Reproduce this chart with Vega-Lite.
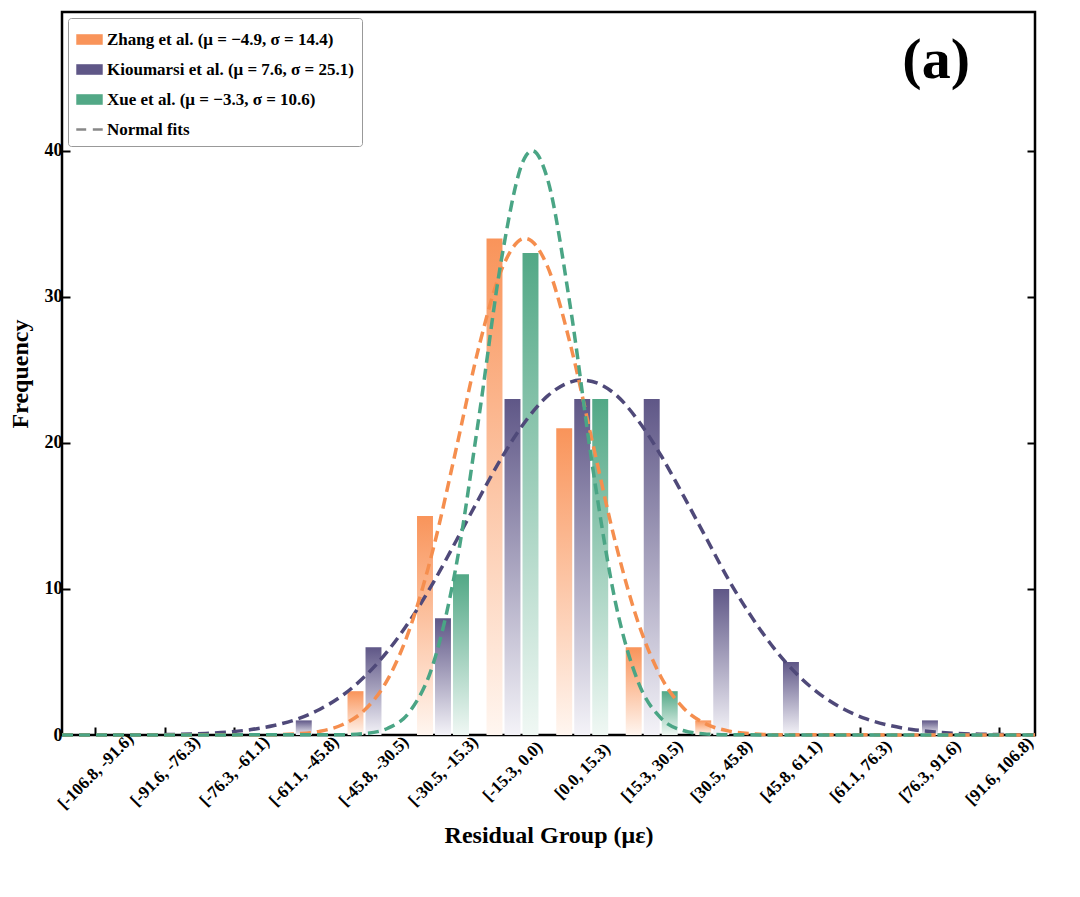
{
  "$schema": "https://vega.github.io/schema/vega-lite/v6.json",
  "width": 973,
  "height": 723,
  "padding": {"left": 8, "top": 12, "right": 25, "bottom": 5},
  "config": {
    "font": "Liberation Serif",
    "view": {"stroke": "black", "strokeWidth": 2.5},
    "axis": {"labelFont": "Liberation Serif", "titleFont": "Liberation Serif", "labelFontWeight": "bold", "titleFontWeight": "bold", "labelColor": "black", "titleColor": "black", "grid": false, "domain": false, "tickColor": "black", "tickWidth": 2, "tickSize": -8}
  },
  "title": {"text": "(a)", "font": "Liberation Serif", "fontSize": 58, "fontWeight": "bold", "anchor": "end", "orient": "top", "offset": -78, "dx": -72, "color": "black"},
  "datasets": {
    "bars": [
      {"bin": "[-45.8, -30.5)", "center": -38.15, "series": "Zhang", "count": 3},
      {"bin": "[-30.5, -15.3)", "center": -22.9, "series": "Zhang", "count": 15},
      {"bin": "[-15.3, 0.0)", "center": -7.65, "series": "Zhang", "count": 34},
      {"bin": "[0.0, 15.3)", "center": 7.65, "series": "Zhang", "count": 21},
      {"bin": "[15.3, 30.5)", "center": 22.9, "series": "Zhang", "count": 6},
      {"bin": "[30.5, 45.8)", "center": 38.15, "series": "Zhang", "count": 1},
      {"bin": "[-61.1, -45.8)", "center": -53.45, "series": "Kioumarsi", "count": 1},
      {"bin": "[-45.8, -30.5)", "center": -38.15, "series": "Kioumarsi", "count": 6},
      {"bin": "[-30.5, -15.3)", "center": -22.9, "series": "Kioumarsi", "count": 8},
      {"bin": "[-15.3, 0.0)", "center": -7.65, "series": "Kioumarsi", "count": 23},
      {"bin": "[0.0, 15.3)", "center": 7.65, "series": "Kioumarsi", "count": 23},
      {"bin": "[15.3, 30.5)", "center": 22.9, "series": "Kioumarsi", "count": 23},
      {"bin": "[30.5, 45.8)", "center": 38.15, "series": "Kioumarsi", "count": 10},
      {"bin": "[45.8, 61.1)", "center": 53.45, "series": "Kioumarsi", "count": 5},
      {"bin": "[76.3, 91.6)", "center": 83.95, "series": "Kioumarsi", "count": 1},
      {"bin": "[-30.5, -15.3)", "center": -22.9, "series": "Xue", "count": 11},
      {"bin": "[-15.3, 0.0)", "center": -7.65, "series": "Xue", "count": 33},
      {"bin": "[0.0, 15.3)", "center": 7.65, "series": "Xue", "count": 23},
      {"bin": "[15.3, 30.5)", "center": 22.9, "series": "Xue", "count": 3}
    ],
    "ticks": [
      {"center": -99.15, "label": "[-106.8, -91.6)"},
      {"center": -83.9, "label": "[-91.6, -76.3)"},
      {"center": -68.7, "label": "[-76.3, -61.1)"},
      {"center": -53.45, "label": "[-61.1, -45.8)"},
      {"center": -38.15, "label": "[-45.8, -30.5)"},
      {"center": -22.9, "label": "[-30.5, -15.3)"},
      {"center": -7.65, "label": "[-15.3, 0.0)"},
      {"center": 7.65, "label": "[0.0, 15.3)"},
      {"center": 22.9, "label": "[15.3, 30.5)"},
      {"center": 38.15, "label": "[30.5, 45.8)"},
      {"center": 53.45, "label": "[45.8, 61.1)"},
      {"center": 68.7, "label": "[61.1, 76.3)"},
      {"center": 83.9, "label": "[76.3, 91.6)"},
      {"center": 99.15, "label": "[91.6, 106.8)"}
    ],
    "curves": [
      {"series": "Zhang", "x": -106.5, "y": 0},
      {"series": "Zhang", "x": -60, "y": 0.02},
      {"series": "Zhang", "x": -55, "y": 0.08},
      {"series": "Zhang", "x": -50, "y": 0.25},
      {"series": "Zhang", "x": -45, "y": 0.7},
      {"series": "Zhang", "x": -40, "y": 1.74},
      {"series": "Zhang", "x": -35, "y": 3.82},
      {"series": "Zhang", "x": -30, "y": 7.45},
      {"series": "Zhang", "x": -25, "y": 12.8},
      {"series": "Zhang", "x": -20, "y": 19.6},
      {"series": "Zhang", "x": -15, "y": 26.6},
      {"series": "Zhang", "x": -10, "y": 31.9},
      {"series": "Zhang", "x": -4.9, "y": 34},
      {"series": "Zhang", "x": 0, "y": 32.1},
      {"series": "Zhang", "x": 5, "y": 26.8},
      {"series": "Zhang", "x": 10, "y": 19.9},
      {"series": "Zhang", "x": 15, "y": 13.1},
      {"series": "Zhang", "x": 20, "y": 7.63},
      {"series": "Zhang", "x": 25, "y": 3.94},
      {"series": "Zhang", "x": 30, "y": 1.8},
      {"series": "Zhang", "x": 35, "y": 0.73},
      {"series": "Zhang", "x": 40, "y": 0.26},
      {"series": "Zhang", "x": 45, "y": 0.08},
      {"series": "Zhang", "x": 50, "y": 0.02},
      {"series": "Zhang", "x": 107, "y": 0},
      {"series": "Kioumarsi", "x": -106.5, "y": 0.001},
      {"series": "Kioumarsi", "x": -95, "y": 0.006},
      {"series": "Kioumarsi", "x": -85, "y": 0.027},
      {"series": "Kioumarsi", "x": -75, "y": 0.108},
      {"series": "Kioumarsi", "x": -70, "y": 0.204},
      {"series": "Kioumarsi", "x": -65, "y": 0.371},
      {"series": "Kioumarsi", "x": -60, "y": 0.647},
      {"series": "Kioumarsi", "x": -55, "y": 1.08},
      {"series": "Kioumarsi", "x": -50, "y": 1.75},
      {"series": "Kioumarsi", "x": -45, "y": 2.7},
      {"series": "Kioumarsi", "x": -40, "y": 4.03},
      {"series": "Kioumarsi", "x": -35, "y": 5.76},
      {"series": "Kioumarsi", "x": -30, "y": 7.91},
      {"series": "Kioumarsi", "x": -25, "y": 10.45},
      {"series": "Kioumarsi", "x": -20, "y": 13.3},
      {"series": "Kioumarsi", "x": -15, "y": 16.2},
      {"series": "Kioumarsi", "x": -10, "y": 19.0},
      {"series": "Kioumarsi", "x": -5, "y": 21.4},
      {"series": "Kioumarsi", "x": 0, "y": 23.2},
      {"series": "Kioumarsi", "x": 7.6, "y": 24.3},
      {"series": "Kioumarsi", "x": 15, "y": 23.3},
      {"series": "Kioumarsi", "x": 20, "y": 21.5},
      {"series": "Kioumarsi", "x": 25, "y": 19.1},
      {"series": "Kioumarsi", "x": 30, "y": 16.3},
      {"series": "Kioumarsi", "x": 35, "y": 13.4},
      {"series": "Kioumarsi", "x": 40, "y": 10.5},
      {"series": "Kioumarsi", "x": 45, "y": 8.0},
      {"series": "Kioumarsi", "x": 50, "y": 5.83},
      {"series": "Kioumarsi", "x": 55, "y": 4.09},
      {"series": "Kioumarsi", "x": 60, "y": 2.75},
      {"series": "Kioumarsi", "x": 65, "y": 1.78},
      {"series": "Kioumarsi", "x": 70, "y": 1.1},
      {"series": "Kioumarsi", "x": 75, "y": 0.66},
      {"series": "Kioumarsi", "x": 80, "y": 0.38},
      {"series": "Kioumarsi", "x": 85, "y": 0.21},
      {"series": "Kioumarsi", "x": 90, "y": 0.11},
      {"series": "Kioumarsi", "x": 95, "y": 0.057},
      {"series": "Kioumarsi", "x": 107, "y": 0.013},
      {"series": "Xue", "x": -106.5, "y": 0},
      {"series": "Xue", "x": -45, "y": 0.02},
      {"series": "Xue", "x": -40, "y": 0.1},
      {"series": "Xue", "x": -35, "y": 0.46},
      {"series": "Xue", "x": -30, "y": 1.68},
      {"series": "Xue", "x": -25, "y": 4.92},
      {"series": "Xue", "x": -20, "y": 11.6},
      {"series": "Xue", "x": -15, "y": 21.8},
      {"series": "Xue", "x": -10, "y": 32.7},
      {"series": "Xue", "x": -5, "y": 39.5},
      {"series": "Xue", "x": -3.3, "y": 40},
      {"series": "Xue", "x": 0, "y": 38.1},
      {"series": "Xue", "x": 5, "y": 29.4},
      {"series": "Xue", "x": 10, "y": 18.2},
      {"series": "Xue", "x": 15, "y": 9.0},
      {"series": "Xue", "x": 20, "y": 3.57},
      {"series": "Xue", "x": 25, "y": 1.13},
      {"series": "Xue", "x": 30, "y": 0.29},
      {"series": "Xue", "x": 35, "y": 0.06},
      {"series": "Xue", "x": 40, "y": 0.01},
      {"series": "Xue", "x": 107, "y": 0}
    ],
    "legend": [
      {"label": "Zhang et al. (μ = −4.9, σ = 14.4)"},
      {"label": "Kioumarsi et al. (μ = 7.6, σ = 25.1)"},
      {"label": "Xue et al. (μ = −3.3, σ = 10.6)"},
      {"label": "Normal fits"}
    ]
  },
  "resolve": {"axis": {"y": "independent"}},
  "layer": [
    {
      "data": {"name": "ticks"},
      "mark": {"type": "point", "opacity": 0},
      "encoding": {
        "x": {"field": "center", "type": "quantitative", "scale": {"domain": [-106.5, 107], "nice": false, "zero": false},
          "axis": {"values": [-99.15, -83.9, -68.7, -53.45, -38.15, -22.9, -7.65, 7.65, 22.9, 38.15, 53.45, 68.7, 83.9, 99.15],
            "labelExpr": "{'-99.15':'[-106.8, -91.6)','-83.9':'[-91.6, -76.3)','-68.7':'[-76.3, -61.1)','-53.45':'[-61.1, -45.8)','-38.15':'[-45.8, -30.5)','-22.9':'[-30.5, -15.3)','-7.65':'[-15.3, 0.0)','7.65':'[0.0, 15.3)','22.9':'[15.3, 30.5)','38.15':'[30.5, 45.8)','53.45':'[45.8, 61.1)','68.7':'[61.1, 76.3)','83.9':'[76.3, 91.6)','99.15':'[91.6, 106.8)'}[datum.value + '']",
            "labelAngle": -45, "labelAlign": "center", "labelBaseline": "middle", "labelPadding": 44, "labelFontSize": 17, "labelOverlap": false,
            "title": "Residual Group (με)", "titleFontSize": 24, "titlePadding": 12}},
        "y": {"datum": 0, "type": "quantitative", "scale": {"domain": [0, 49.5], "nice": false},
          "axis": {"values": [0, 10, 20, 30, 40], "labelFontSize": 18, "title": "Frequency", "titleFontSize": 24, "titlePadding": 12, "labelPadding": 8}}
      }
    },
    {
      "data": {"name": "ticks"},
      "mark": {"type": "point", "opacity": 0},
      "encoding": {
        "x": {"field": "center", "type": "quantitative"},
        "y": {"datum": 0, "type": "quantitative", "axis": {"orient": "right", "values": [0, 10, 20, 30, 40], "labels": false, "title": null}}
      }
    },
    {
      "data": {"name": "bars"},
      "transform": [{"filter": "datum.series === 'Zhang'"}, {"calculate": "datum.center - 5.7", "as": "x0"}, {"calculate": "datum.center - 2.2", "as": "x1"}],
      "mark": {"type": "bar", "color": {"gradient": "linear", "x1": 0, "y1": 0, "x2": 0, "y2": 1, "stops": [{"offset": 0, "color": "#f9945a"}, {"offset": 1, "color": "#fff6f0"}]}},
      "encoding": {"x": {"field": "x0", "type": "quantitative"}, "x2": {"field": "x1"}, "y": {"field": "count", "type": "quantitative", "axis": null}, "y2": {"datum": 0}}
    },
    {
      "data": {"name": "bars"},
      "transform": [{"filter": "datum.series === 'Kioumarsi'"}, {"calculate": "datum.center - 1.75", "as": "x0"}, {"calculate": "datum.center + 1.75", "as": "x1"}],
      "mark": {"type": "bar", "color": {"gradient": "linear", "x1": 0, "y1": 0, "x2": 0, "y2": 1, "stops": [{"offset": 0, "color": "#5f5787"}, {"offset": 1, "color": "#f4f3f8"}]}},
      "encoding": {"x": {"field": "x0", "type": "quantitative"}, "x2": {"field": "x1"}, "y": {"field": "count", "type": "quantitative", "axis": null}, "y2": {"datum": 0}}
    },
    {
      "data": {"name": "bars"},
      "transform": [{"filter": "datum.series === 'Xue'"}, {"calculate": "datum.center + 2.2", "as": "x0"}, {"calculate": "datum.center + 5.7", "as": "x1"}],
      "mark": {"type": "bar", "color": {"gradient": "linear", "x1": 0, "y1": 0, "x2": 0, "y2": 1, "stops": [{"offset": 0, "color": "#52a886"}, {"offset": 1, "color": "#f0f8f4"}]}},
      "encoding": {"x": {"field": "x0", "type": "quantitative"}, "x2": {"field": "x1"}, "y": {"field": "count", "type": "quantitative", "axis": null}, "y2": {"datum": 0}}
    },
    {
      "data": {"name": "curves"},
      "transform": [{"filter": "datum.series === 'Kioumarsi'"}],
      "mark": {"type": "line", "interpolate": "monotone", "color": "#4f4979", "strokeWidth": 3.5, "strokeDash": [11, 6]},
      "encoding": {"x": {"field": "x", "type": "quantitative"}, "y": {"field": "y", "type": "quantitative", "axis": null}}
    },
    {
      "data": {"name": "curves"},
      "transform": [{"filter": "datum.series === 'Zhang'"}],
      "mark": {"type": "line", "interpolate": "monotone", "color": "#f58e4e", "strokeWidth": 3.5, "strokeDash": [11, 6]},
      "encoding": {"x": {"field": "x", "type": "quantitative"}, "y": {"field": "y", "type": "quantitative", "axis": null}}
    },
    {
      "data": {"name": "curves"},
      "transform": [{"filter": "datum.series === 'Xue'"}],
      "mark": {"type": "line", "interpolate": "monotone", "color": "#4aa585", "strokeWidth": 3.5, "strokeDash": [11, 6]},
      "encoding": {"x": {"field": "x", "type": "quantitative"}, "y": {"field": "y", "type": "quantitative", "axis": null}}
    },
    {
      "data": {"name": "legend"},
      "mark": {"type": "point", "filled": true, "opacity": 0},
      "encoding": {
        "color": {"field": "label", "type": "nominal",
          "scale": {"domain": ["Zhang et al. (μ = −4.9, σ = 14.4)", "Kioumarsi et al. (μ = 7.6, σ = 25.1)", "Xue et al. (μ = −3.3, σ = 10.6)", "Normal fits"], "range": ["#f9945a", "#5f5787", "#52a886", "#888888"]},
          "legend": {"orient": "top-left", "title": null, "offset": 6, "fillColor": "white", "strokeColor": "#999999", "cornerRadius": 3, "padding": 8, "labelLimit": 0,
            "labelFont": "Liberation Serif", "labelFontWeight": "bold", "labelFontSize": 17, "labelColor": "black", "symbolSize": 700, "symbolOpacity": 1, "rowPadding": 8, "symbolStrokeWidth": 0}},
        "shape": {"field": "label", "type": "nominal",
          "scale": {"domain": ["Zhang et al. (μ = −4.9, σ = 14.4)", "Kioumarsi et al. (μ = 7.6, σ = 25.1)", "Xue et al. (μ = −3.3, σ = 10.6)", "Normal fits"],
            "range": ["M-1,-0.4H1V0.4H-1Z", "M-1,-0.4H1V0.4H-1Z", "M-1,-0.4H1V0.4H-1Z", "M-1,-0.1H-0.25V0.1H-1Z M0.25,-0.1H1V0.1H0.25Z"]},
          "legend": null}
      }
    }
  ]
}
